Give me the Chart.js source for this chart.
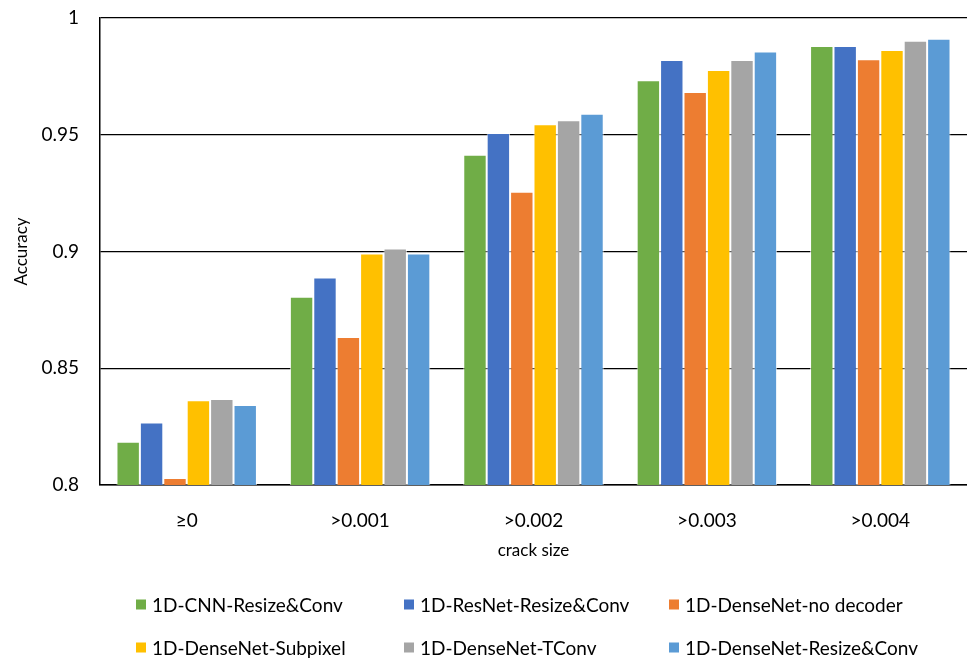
<!DOCTYPE html>
<html>
<head>
<meta charset="utf-8">
<script src="https://cdn.jsdelivr.net/npm/chart.js@4.4.1/dist/chart.umd.min.js"></script>
<style>
  html, body { margin: 0; padding: 0; background: #fff; }
  #wrap { position: relative; width: 967px; height: 660px; }
  #legend { position: absolute; left: 0; top: 0; width: 967px; height: 660px; pointer-events: none;
            font-family: Lato, "Open Sans", sans-serif; font-size: 19px; color: #000; }
  .item { position: absolute; display: flex; align-items: center; white-space: nowrap; transform: translateY(-50%); }
  .box { width: 10px; height: 10px; margin-right: 6px; }
</style>
</head>
<body>
<div id="wrap">
  <canvas id="AccuracyChart" width="967" height="660"></canvas>
  <div id="legend"></div>
</div>
<script>
const categories = ['≥0', '>0.001', '>0.002', '>0.003', '>0.004'];
const seriesNames = [
  '1D-CNN-Resize&Conv',
  '1D-ResNet-Resize&Conv',
  '1D-DenseNet-no decoder',
  '1D-DenseNet-Subpixel',
  '1D-DenseNet-TConv',
  '1D-DenseNet-Resize&Conv',
];
const cnnResizeConv      = [0.8185, 0.8806, 0.9414, 0.9733, 0.9880];
const resnetResizeConv   = [0.8268, 0.8889, 0.9507, 0.9820, 0.9880];
const densenetNoDecoder  = [0.8030, 0.8634, 0.9256, 0.9683, 0.9823];
const densenetSubpixel   = [0.8363, 0.8991, 0.9545, 0.9777, 0.9863];
const densenetTConv      = [0.8368, 0.9013, 0.9562, 0.9820, 0.9903];
const densenetResizeConv = [0.8343, 0.8991, 0.9590, 0.9856, 0.9911];
const yTicks = [0.8, 0.85, 0.9, 0.95, 1];

const seriesValues = [cnnResizeConv, resnetResizeConv, densenetNoDecoder,
                      densenetSubpixel, densenetTConv, densenetResizeConv];
const colors = ['#70AD47', '#4472C4', '#ED7D31', '#FFC000', '#A5A5A5', '#5B9BD5'];

const family = 'Lato, "Open Sans", sans-serif';
const tickFont = { family: family, size: 19 };
const titleFont = { family: family, size: 17 };

const ctx = document.getElementById('AccuracyChart').getContext('2d');
new Chart(ctx, {
  type: 'bar',
  data: {
    labels: categories,
    datasets: seriesNames.map((name, i) => ({
      label: name,
      data: seriesValues[i],
      backgroundColor: colors[i],
      borderColor: 'rgba(255,255,255,0.7)',
      borderWidth: 1,
      categoryPercentage: 0.81,
      barPercentage: 1,
    })),
  },
  options: {
    responsive: false,
    animation: false,
    layout: { padding: { top: 18, right: 0, bottom: 95, left: 0 } },
    plugins: {
      legend: { display: false },
      tooltip: { enabled: false },
    },
    scales: {
      x: {
        grid: { display: false },
        border: { color: '#000', width: 1.5 },
        ticks: { color: '#000', font: tickFont, padding: 16 },
        title: { display: true, text: 'crack size', color: '#000', font: titleFont, padding: { top: 4, bottom: 4 } },
        afterFit: axis => { axis.height = 80; },
      },
      y: {
        min: 0.8,
        max: 1,
        afterBuildTicks: axis => { axis.ticks = yTicks.map(v => ({ value: v })); },
        grid: { color: '#000', lineWidth: 1.2, drawTicks: false },
        border: { color: '#000', width: 1.5 },
        ticks: {
          color: '#000', font: tickFont, padding: 21,
          callback: v => String(+Number(v).toFixed(2)),
        },
        title: { display: true, text: 'Accuracy', color: '#000', font: titleFont, padding: { top: 11, bottom: 4 } },
        afterFit: axis => {
          axis.width = 100;
          axis.paddingTop = 0;
          axis.paddingBottom = 0;
        },
      },
    },
  },
});

// legend: three aligned columns, two rows
const legendPos = [
  [136, 604], [404, 604], [669, 604],
  [136, 647], [404, 647], [669, 647],
];
const legend = document.getElementById('legend');
seriesNames.forEach((name, i) => {
  const item = document.createElement('div');
  item.className = 'item';
  item.style.left = legendPos[i][0] + 'px';
  item.style.top = legendPos[i][1] + 'px';
  const box = document.createElement('span');
  box.className = 'box';
  box.style.background = colors[i];
  const label = document.createElement('span');
  label.textContent = name;
  item.appendChild(box);
  item.appendChild(label);
  legend.appendChild(item);
});
</script>
</body>
</html>
